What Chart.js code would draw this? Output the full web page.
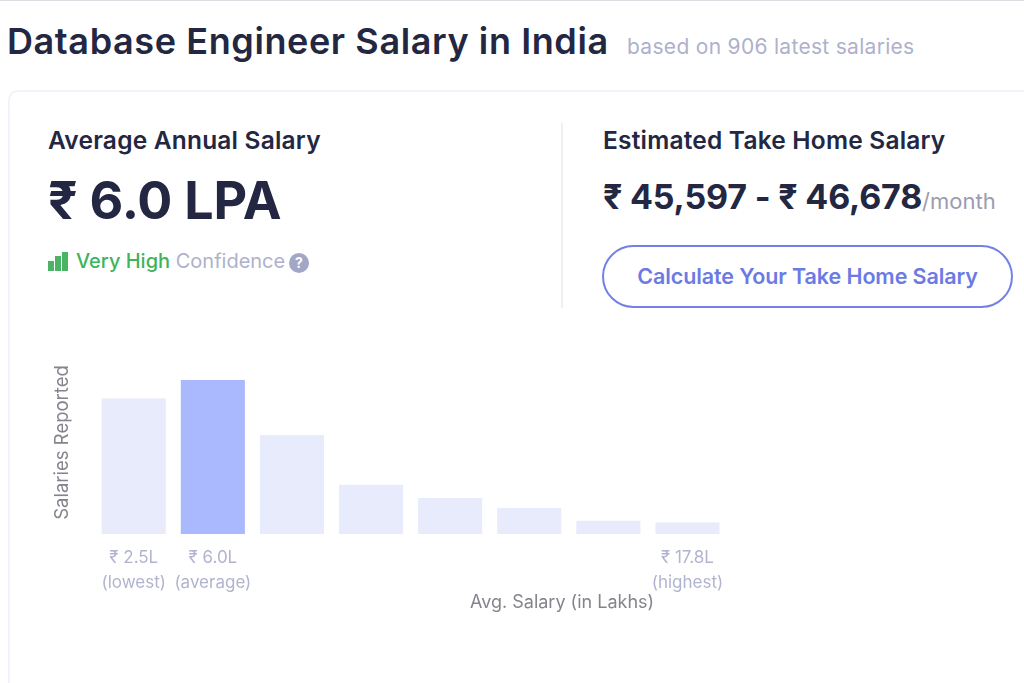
<!DOCTYPE html>
<html lang="en">
<head>
  <meta charset="UTF-8">
  <title>Database Engineer Salary in India</title>
  <script src="https://cdn.jsdelivr.net/npm/chart.js"></script>
  <style>
    html, body { margin: 0; padding: 0; background: white; }
    body { width: 1024px; height: 683px; overflow: hidden; position: relative; font-family: Inter, "DejaVu Sans", sans-serif; color: #232742; }
    .abs { position: absolute; white-space: nowrap; }
    #topline { left: 0; top: 0; width: 1024px; height: 1px; background: #dcdde2; }
    #card { left: 8px; top: 90px; width: 1100px; height: 700px; border: 2px solid #f1f3fa; border-radius: 10px; box-sizing: border-box; }
    #title { left: 7px; top: 20px; font-size: 36px; font-weight: 600; line-height: 42px; letter-spacing: 0.6px; }
    #based { left: 627px; top: 35px; font-size: 21px; line-height: 24px; color: #aeb1cc; letter-spacing: 0.3px; }
    .head { font-size: 24.5px; font-weight: 600; line-height: 28px; letter-spacing: 0.2px; }
    #avg-val { left: 48px; top: 172px; font-size: 52px; font-weight: 700; line-height: 58px; letter-spacing: -0.2px; }
    #take-val { left: 603px; top: 177px; font-size: 34px; font-weight: 700; line-height: 40px; letter-spacing: -0.2px; }
    #take-val span { font-size: 22px; font-weight: 400; color: #9a9cb0; letter-spacing: 0; }
    #conf { left: 76px; top: 249px; font-size: 20px; line-height: 24px; color: #aeb1cc; }
    #conf b { font-weight: 500; color: #3db45a; }
    #conf-icon { left: 48px; top: 252px; width: 20px; height: 19px; display: flex; align-items: flex-end; gap: 1px; }
    #conf-icon i { display: block; width: 6px; background: #49b463; }
    #help { left: 289px; top: 253px; width: 20px; height: 20px; border-radius: 50%; background: #a2a7c6; color: white; font-size: 14px; font-weight: 700; line-height: 20px; text-align: center; }
    #divider { left: 561px; top: 123px; width: 2px; height: 185px; background: #eff0f4; }
    #calc { left: 602px; top: 245px; width: 411px; height: 63px; box-sizing: border-box; border: 2px solid #7280e8; border-radius: 32px; color: #6c7ae4; font-size: 21.5px; font-weight: 600; line-height: 59px; text-align: center; letter-spacing: -0.1px; }
    #chart-box { left: 40px; top: 340px; width: 700px; height: 280px; }
    #x-title { left: 470px; top: 592px; font-size: 18px; line-height: 20px; color: #84858c; }
  </style>
</head>

<body>
<div class="abs" id="topline"></div>
<div class="abs" id="title">Database Engineer Salary in India</div>
<div class="abs" id="based">based on 906 latest salaries</div>
<div class="abs" id="card"></div>

<div class="abs head" style="left:48px;top:126px;">Average Annual Salary</div>
<div class="abs" id="avg-val">₹ 6.0 LPA</div>
<div class="abs" id="conf-icon"><i style="height:10px"></i><i style="height:15px"></i><i style="height:19px"></i></div>
<div class="abs" id="conf"><b>Very High</b> Confidence</div>
<div class="abs" id="help">?</div>

<div class="abs" id="divider"></div>

<div class="abs head" style="left:603px;top:126px;">Estimated Take Home Salary</div>
<div class="abs" id="take-val">₹ 45,597 - ₹ 46,678<span>/month</span></div>
<div class="abs" id="calc">Calculate Your Take Home Salary</div>

<div class="abs" id="chart-box"><canvas id="salary-chart" width="700" height="280"></canvas></div>
<div class="abs" id="x-title">Avg. Salary (in Lakhs)</div>

<script>
const categories = [['₹ 2.5L', '(lowest)'], ['₹ 6.0L', '(average)'], '', '', '', '', '', ['₹ 17.8L', '(highest)']];
const salariesReported = [234, 266, 171, 85, 62, 45, 23, 20];
const barColors = ['#e8ebfc', '#aab8fd', '#e8ebfc', '#e8ebfc', '#e8ebfc', '#e8ebfc', '#e8ebfc', '#e8ebfc'];

new Chart(document.getElementById('salary-chart').getContext('2d'), {
  type: 'bar',
  data: {
    labels: categories,
    datasets: [{ label: 'Salaries Reported', data: salariesReported, backgroundColor: barColors, borderWidth: 0, categoryPercentage: 1, barPercentage: 0.81 }]
  },
  options: {
    responsive: false,
    animation: false,
    layout: { padding: { left: 11, right: 13, top: 11, bottom: 22 } },
    plugins: { legend: { display: false }, tooltip: { enabled: false } },
    scales: {
      x: {
        grid: { display: false },
        border: { display: false },
        ticks: { autoSkip: false, maxRotation: 0, padding: 3, color: '#b1b4cf', font: { family: 'Inter', size: 17, lineHeight: 1.47 } }
      },
      y: {
        min: 0,
        max: 316,
        grid: { display: false },
        border: { display: false },
        ticks: { display: false },
        title: { display: true, text: 'Salaries Reported', color: '#84858c', font: { family: 'Inter', size: 18.5 }, padding: { top: 0, bottom: 13 } }
      }
    }
  }
});
</script>
</body>
</html>
